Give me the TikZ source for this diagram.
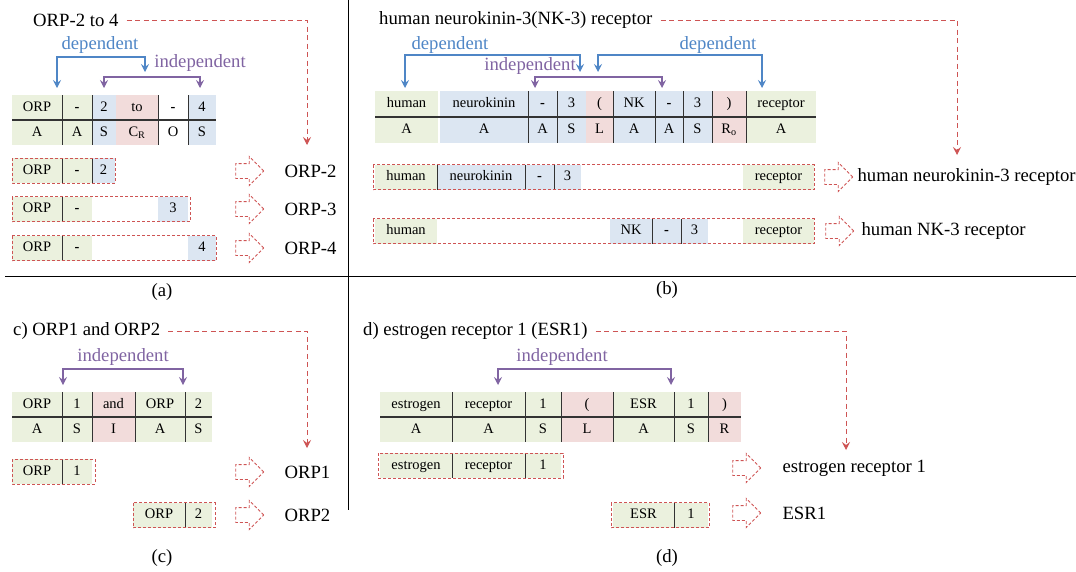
\documentclass[tikz,border=0pt]{standalone}
\usepackage{fontspec}
\setmainfont{Liberation Serif}
\usetikzlibrary{positioning,arrows.meta,shapes.arrows}
\definecolor{cgreen}{RGB}{235,241,222}
\definecolor{cblue}{RGB}{220,230,242}
\definecolor{cpink}{RGB}{242,220,219}
\definecolor{flowred}{RGB}{206,84,84}
\definecolor{depblue}{RGB}{79,134,198}
\definecolor{indpurple}{RGB}{128,100,162}
\newcommand{\bigtxt}{\fontsize{18.7}{22}\selectfont}
\newcommand{\celltxt}{\fontsize{14.5}{17}\selectfont}

\begin{document}
\begin{tikzpicture}[x=1pt,y=-1pt,>={Stealth[length=8pt,width=8pt,inset=3pt]}]
\tikzstyle{cell}=[rectangle, inner sep=0pt, outer sep=0pt, minimum height=25pt, text height=10pt, text depth=3pt, font=\celltxt, anchor=west]
\tikzstyle{divline}=[line width=1pt, black!80]
\tikzstyle{midline}=[line width=1.2pt, black!80]
\tikzstyle{dbox}=[flowred, line width=0.9pt, dash pattern=on 3pt off 2pt]
\tikzstyle{flow}=[->, flowred, line width=1pt, dash pattern=on 5pt off 3.5pt, shorten <=8pt]
\tikzstyle{dep}=[<->, depblue, line width=1.1pt]
\tikzstyle{indep}=[<->, indpurple, line width=1.1pt]
\tikzstyle{hollow}=[single arrow, draw=flowred, dash pattern=on 3pt off 2pt, line width=0.9pt, minimum height=28pt, single arrow head extend=7pt, inner sep=7pt]
\tikzstyle{result}=[font=\bigtxt, inner sep=0pt, anchor=west]
\tikzstyle{title}=[font=\bigtxt, inner sep=0pt, anchor=west]
\tikzstyle{plabel}=[font=\bigtxt, inner sep=0pt]
\tikzstyle{deptxt}=[font=\bigtxt, text=depblue, inner sep=0pt]
\tikzstyle{indtxt}=[font=\bigtxt, text=indpurple, inner sep=0pt]
\useasboundingbox (0,0) rectangle (1076,571);

% frame lines
\draw[line width=1pt] (348,0) -- (348,510);
\draw[line width=1pt] (5,276) -- (1076,276);

% (a) ORP-2 to 4
\node[title] (ta) at (33,20) {ORP-2 to 4};
\coordinate (ea) at (307,145);
\draw[flow] (ta) -| (ea);
\node[cell, fill=cgreen, minimum width=50pt] (a1) at (12,107.5) {ORP};
\node[cell, fill=cgreen, minimum width=30pt, right=0pt of a1] (a2) {\textbf{-}};
\node[cell, fill=cblue, minimum width=24pt, right=0pt of a2] (a3) {2};
\node[cell, fill=cpink, minimum width=42pt, right=0pt of a3] (a4) {to};
\node[cell, minimum width=30pt, right=0pt of a4] (a5) {\textbf{-}};
\node[cell, fill=cblue, minimum width=28pt, right=0pt of a5] (a6) {4};
\node[cell, fill=cgreen, minimum width=50pt, below=0pt of a1] (b1) {A};
\node[cell, fill=cgreen, minimum width=30pt, below=0pt of a2] (b2) {A};
\node[cell, fill=cblue, minimum width=24pt, below=0pt of a3] (b3) {S};
\node[cell, fill=cpink, minimum width=42pt, below=0pt of a4] (b4) {C\textsubscript{R}};
\node[cell, minimum width=30pt, below=0pt of a5] (b5) {O};
\node[cell, fill=cblue, minimum width=28pt, below=0pt of a6] (b6) {S};
\draw[divline] (a1.north east) -- (b1.south east) (a2.north east) -- (b2.south east)
               (a4.north east) -- (b4.south east) (a5.north east) -- (b5.south east);
\draw[midline] (b1.north west) -- (b6.north east);
\coordinate (da1) at (57,88);
\coordinate (da2) at (145,72);
\draw[dep] (da1) -- ++(0,-31) -| (da2);
\node[deptxt] (dta) at (100,45) {dependent};
\coordinate (ia1) at (104,88);
\coordinate (ia2) at (200,88);
\draw[indep] (ia1) -- ++(0,-11) -| (ia2);
\node[indtxt] (ita) at (200,63) {independent};

\node[cell, fill=cgreen, minimum width=50pt] (r1a) at (12,170.5) {ORP};
\node[cell, fill=cgreen, minimum width=30pt, right=0pt of r1a] (r1b) {\textbf{-}};
\node[cell, fill=cblue, minimum width=23pt, right=0pt of r1b] (r1c) {2};
\draw[divline] (r1a.north east) -- (r1a.south east) (r1b.north east) -- (r1b.south east);
\draw[dbox] (r1a.north west) rectangle (r1c.south east);
\node[cell, fill=cgreen, minimum width=50pt] (r2a) at (12,209) {ORP};
\node[cell, fill=cgreen, minimum width=30pt, right=0pt of r2a] (r2b) {\textbf{-}};
\node[cell, fill=cblue, minimum width=30pt] (r2c) at (158,209) {3};
\draw[divline] (r2a.north east) -- (r2a.south east);
\draw[dbox] (r2a.north west) rectangle ([xshift=2pt]r2c.south east);
\node[cell, fill=cgreen, minimum width=50pt] (r3a) at (12,248) {ORP};
\node[cell, fill=cgreen, minimum width=30pt, right=0pt of r3a] (r3b) {\textbf{-}};
\node[cell, fill=cblue, minimum width=28pt] (r3c) at (188,248) {4};
\draw[divline] (r3a.north east) -- (r3a.south east);
\draw[dbox] (r3a.north west) rectangle (r3c.south east);
\node[hollow] (h1) at (246,171) {};
\node[hollow] (h2) at (246,209) {};
\node[hollow] (h3) at (246,248) {};
\node[result, right=20pt of h1] (o1) {ORP-2};
\node[result, right=20pt of h2] (o2) {ORP-3};
\node[result, right=20pt of h3] (o3) {ORP-4};
\node[plabel] (capa) at (162,292) {(a)};

% (b) human neurokinin-3(NK-3) receptor
\node[title] (tb) at (379,20) {human neurokinin-3(NK-3) receptor};
\coordinate (eb) at (957,155);
\draw[flow] (tb) -| (eb);
\node[cell, fill=cgreen, minimum width=63pt, minimum height=26pt] (c1) at (375,104) {human};
\node[cell, fill=cblue, minimum width=88pt, minimum height=26pt, right=2pt of c1] (c2) {neurokinin};
\node[cell, fill=cblue, minimum width=29pt, minimum height=26pt, right=0pt of c2] (c3) {\textbf{-}};
\node[cell, fill=cblue, minimum width=29pt, minimum height=26pt, right=0pt of c3] (c4) {3};
\node[cell, fill=cpink, minimum width=27pt, minimum height=26pt, right=0pt of c4] (c5) {(};
\node[cell, fill=cblue, minimum width=42pt, minimum height=26pt, right=0pt of c5] (c6) {NK};
\node[cell, fill=cblue, minimum width=28pt, minimum height=26pt, right=0pt of c6] (c7) {\textbf{-}};
\node[cell, fill=cblue, minimum width=29pt, minimum height=26pt, right=0pt of c7] (c8) {3};
\node[cell, fill=cpink, minimum width=34pt, minimum height=26pt, right=0pt of c8] (c9) {)};
\node[cell, fill=cgreen, minimum width=70pt, minimum height=26pt, right=0pt of c9] (c10) {receptor};
\node[cell, fill=cgreen, minimum width=63pt, minimum height=26pt, below=0pt of c1] (d1) {A};
\node[cell, fill=cblue, minimum width=88pt, minimum height=26pt, below=0pt of c2] (d2) {A};
\node[cell, fill=cblue, minimum width=29pt, minimum height=26pt, below=0pt of c3] (d3) {A};
\node[cell, fill=cblue, minimum width=29pt, minimum height=26pt, below=0pt of c4] (d4) {S};
\node[cell, fill=cpink, minimum width=27pt, minimum height=26pt, below=0pt of c5] (d5) {L};
\node[cell, fill=cblue, minimum width=42pt, minimum height=26pt, below=0pt of c6] (d6) {A};
\node[cell, fill=cblue, minimum width=28pt, minimum height=26pt, below=0pt of c7] (d7) {A};
\node[cell, fill=cblue, minimum width=29pt, minimum height=26pt, below=0pt of c8] (d8) {S};
\node[cell, fill=cpink, minimum width=34pt, minimum height=26pt, below=0pt of c9] (d9) {R\textsubscript{o}};
\node[cell, fill=cgreen, minimum width=70pt, minimum height=26pt, below=0pt of c10] (d10) {A};
\draw[divline] (c2.north east) -- (d2.south east) (c3.north east) -- (d3.south east)
               (c5.north east) -- (d5.south east) (c6.north east) -- (d6.south east)
               (c7.north east) -- (d7.south east) (c8.north east) -- (d8.south east)
               (c9.north east) -- (d9.south east);
\draw[midline] (d1.north west) -- (d10.north east);
\coordinate (db1) at (405,88);
\coordinate (db2) at (580,72);
\draw[dep] (db1) -- ++(0,-33) -| (db2);
\coordinate (db3) at (598,72);
\coordinate (db4) at (762,88);
\draw[dep] (db3) -- ++(0,-17) -| (db4);
\node[deptxt] (dtb1) at (450,45) {dependent};
\node[deptxt] (dtb2) at (718,45) {dependent};
\coordinate (ib1) at (535,88);
\coordinate (ib2) at (662,88);
\draw[indep] (ib1) -- ++(0,-11) -| (ib2);
\node[indtxt] (itb) at (530,66) {independent};

\node[cell, fill=cgreen, minimum width=62pt] (s1a) at (375,177) {human};
\node[cell, fill=cblue, minimum width=88pt, right=0pt of s1a] (s1b) {neurokinin};
\node[cell, fill=cblue, minimum width=29pt, right=0pt of s1b] (s1c) {\textbf{-}};
\node[cell, fill=cblue, minimum width=27pt, right=0pt of s1c] (s1d) {3};
\node[cell, fill=cgreen, minimum width=71pt] (s1e) at (743,177) {receptor};
\draw[divline] (s1a.north east) -- (s1a.south east) (s1b.north east) -- (s1b.south east)
               (s1c.north east) -- (s1c.south east);
\draw[dbox] ([xshift=-2pt]s1a.north west) rectangle (s1e.south east);
\node[cell, fill=cgreen, minimum width=62pt] (s2a) at (375,231) {human};
\node[cell, fill=cblue, minimum width=42pt] (s2b) at (610,231) {NK};
\node[cell, fill=cblue, minimum width=29pt, right=0pt of s2b] (s2c) {\textbf{-}};
\node[cell, fill=cblue, minimum width=27pt, right=0pt of s2c] (s2d) {3};
\node[cell, fill=cgreen, minimum width=71pt] (s2e) at (743,231) {receptor};
\draw[divline] (s2b.north east) -- (s2b.south east) (s2c.north east) -- (s2c.south east);
\draw[dbox] ([xshift=-2pt]s2a.north west) rectangle (s2e.south east);
\node[hollow] (h5) at (835,177) {};
\node[hollow] (h6) at (836,231) {};
\node[result, right=4pt of h5] (o5) {human neurokinin-3 receptor};
\node[result, right=7pt of h6] (o6) {human NK-3 receptor};
\node[plabel] (capb) at (667,290) {(b)};

% (c) ORP1 and ORP2
\node[title] (tc) at (13,331) {c) ORP1 and ORP2};
\coordinate (ec) at (307,448);
\draw[flow] (tc) -| (ec);
\node[cell, fill=cgreen, minimum width=50pt] (e1) at (12,404.5) {ORP};
\node[cell, fill=cgreen, minimum width=30pt, right=0pt of e1] (e2) {1};
\node[cell, fill=cpink, minimum width=43pt, right=0pt of e2] (e3) {and};
\node[cell, fill=cgreen, minimum width=50pt, right=0pt of e3] (e4) {ORP};
\node[cell, fill=cgreen, minimum width=27pt, right=0pt of e4] (e5) {2};
\node[cell, fill=cgreen, minimum width=50pt, below=0pt of e1] (f1) {A};
\node[cell, fill=cgreen, minimum width=30pt, below=0pt of e2] (f2) {S};
\node[cell, fill=cpink, minimum width=43pt, below=0pt of e3] (f3) {I};
\node[cell, fill=cgreen, minimum width=50pt, below=0pt of e4] (f4) {A};
\node[cell, fill=cgreen, minimum width=27pt, below=0pt of e5] (f5) {S};
\draw[divline] (e1.north east) -- (f1.south east) (e2.north east) -- (f2.south east)
               (e3.north east) -- (f3.south east) (e4.north east) -- (f4.south east);
\draw[midline] (f1.north west) -- (f5.north east);
\coordinate (ic1) at (63,385);
\coordinate (ic2) at (183,385);
\draw[indep] (ic1) -- ++(0,-16) -| (ic2);
\node[indtxt] (itc) at (123,357) {independent};

\node[cell, fill=cgreen, minimum width=50pt] (t1a) at (12,471.5) {ORP};
\node[cell, fill=cgreen, minimum width=30pt, right=0pt of t1a] (t1b) {1};
\draw[divline] (t1a.north east) -- (t1a.south east);
\draw[dbox] (t1a.north west) rectangle ([xshift=3pt]t1b.south east);
\node[cell, fill=cgreen, minimum width=52pt] (t2a) at (133,515) {ORP};
\node[cell, fill=cgreen, minimum width=27pt, right=0pt of t2a] (t2b) {2};
\draw[divline] (t2a.north east) -- (t2a.south east);
\draw[dbox] (t2a.north west) rectangle ([xshift=3pt]t2b.south east);
\node[hollow] (h7) at (246,472) {};
\node[hollow] (h8) at (246,515) {};
\node[result, right=20pt of h7] (o7) {ORP1};
\node[result, right=20pt of h8] (o8) {ORP2};
\node[plabel] (capc) at (162,558) {(c)};

% (d) estrogen receptor 1 (ESR1)
\node[title] (td) at (363,331) {d) estrogen receptor 1 (ESR1)};
\coordinate (ed) at (846,450);
\draw[flow] (td) -| (ed);
\node[cell, fill=cgreen, minimum width=72pt] (g1) at (380,404.5) {estrogen};
\node[cell, fill=cgreen, minimum width=73pt, right=0pt of g1] (g2) {receptor};
\node[cell, fill=cgreen, minimum width=36pt, right=0pt of g2] (g3) {1};
\node[cell, fill=cpink, minimum width=52pt, right=0pt of g3] (g4) {(};
\node[cell, fill=cgreen, minimum width=61pt, right=0pt of g4] (g5) {ESR};
\node[cell, fill=cgreen, minimum width=34pt, right=0pt of g5] (g6) {1};
\node[cell, fill=cpink, minimum width=33pt, right=0pt of g6] (g7) {)};
\node[cell, fill=cgreen, minimum width=72pt, below=0pt of g1] (k1) {A};
\node[cell, fill=cgreen, minimum width=73pt, below=0pt of g2] (k2) {A};
\node[cell, fill=cgreen, minimum width=36pt, below=0pt of g3] (k3) {S};
\node[cell, fill=cpink, minimum width=52pt, below=0pt of g4] (k4) {L};
\node[cell, fill=cgreen, minimum width=61pt, below=0pt of g5] (k5) {A};
\node[cell, fill=cgreen, minimum width=34pt, below=0pt of g6] (k6) {S};
\node[cell, fill=cpink, minimum width=33pt, below=0pt of g7] (k7) {R};
\draw[divline] (g1.north east) -- (k1.south east) (g2.north east) -- (k2.south east)
               (g3.north east) -- (k3.south east) (g4.north east) -- (k4.south east)
               (g5.north east) -- (k5.south east) (g6.north east) -- (k6.south east);
\draw[midline] (k1.north west) -- (k7.north east);
\coordinate (id1) at (498,385);
\coordinate (id2) at (671,385);
\draw[indep] (id1) -- ++(0,-16) -| (id2);
\node[indtxt] (itd) at (562,357) {independent};

\node[cell, fill=cgreen, minimum width=72pt] (u1a) at (380,465.5) {estrogen};
\node[cell, fill=cgreen, minimum width=73pt, right=0pt of u1a] (u1b) {receptor};
\node[cell, fill=cgreen, minimum width=36pt, right=0pt of u1b] (u1c) {1};
\draw[divline] (u1a.north east) -- (u1a.south east) (u1b.north east) -- (u1b.south east);
\draw[dbox] ([xshift=-2pt]u1a.north west) rectangle ([xshift=2pt]u1c.south east);
\node[cell, fill=cgreen, minimum width=61pt] (u2a) at (613,515) {ESR};
\node[cell, fill=cgreen, minimum width=34pt, right=0pt of u2a] (u2b) {1};
\draw[divline] (u2a.north east) -- (u2a.south east);
\draw[dbox] ([xshift=-2pt]u2a.north west) rectangle ([xshift=1pt]u2b.south east);
\node[hollow] (h9) at (743,468) {};
\node[hollow] (h10) at (743,513) {};
\node[result, right=21pt of h9] (o9) {estrogen receptor 1};
\node[result, right=21pt of h10] (o10) {ESR1};
\node[plabel] (capd) at (667,558) {(d)};
\end{tikzpicture}
\end{document}
